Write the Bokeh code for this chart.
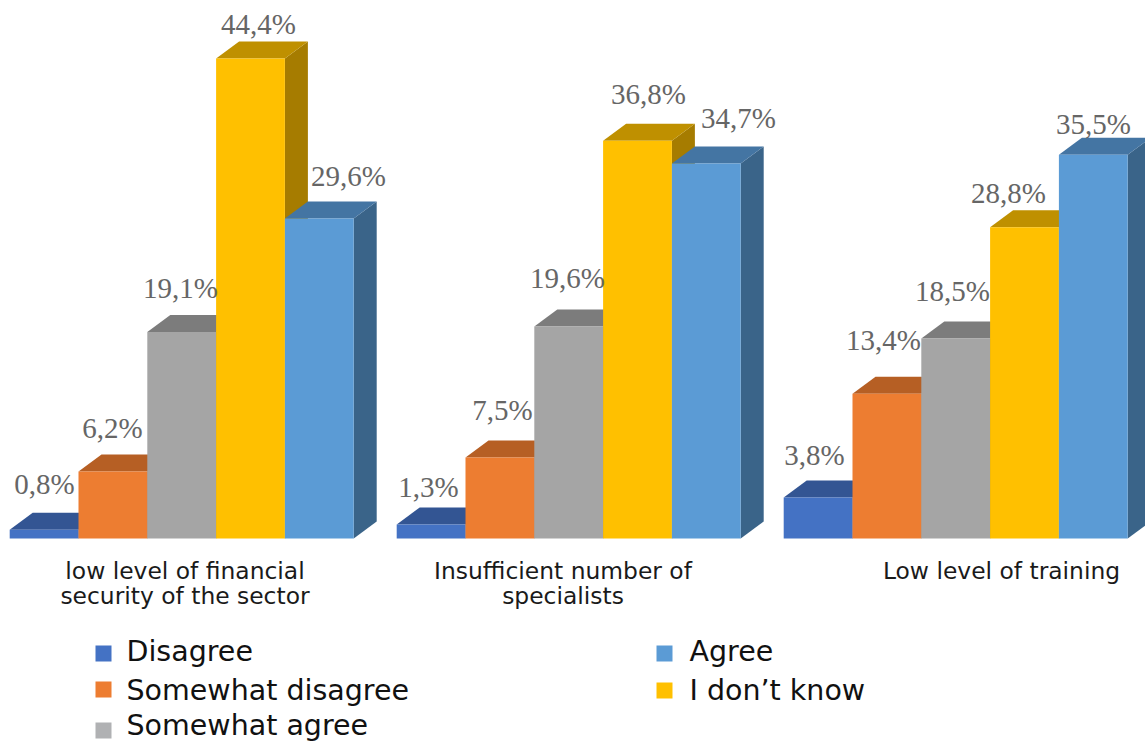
from bokeh.plotting import figure
from bokeh.models import Range1d
from bokeh.core.properties import value
from bokeh.embed import file_html
from bokeh.resources import INLINE

categories = ["low level of financial\nsecurity of the sector", "Insufficient number of\nspecialists", "Low level of training"]
series = ["Disagree", "Somewhat disagree", "Somewhat agree", "I don\u2019t know", "Agree"]
disagree = [0.8, 1.3, 3.8]
somewhat_disagree = [6.2, 7.5, 13.4]
somewhat_agree = [19.1, 19.6, 18.5]
dont_know = [44.4, 36.8, 28.8]
agree = [29.6, 34.7, 35.5]
all_values = [disagree, somewhat_disagree, somewhat_agree, dont_know, agree]

front = ["#4472C4", "#ED7D31", "#A5A5A5", "#FFC000", "#5B9BD5"]
top = ["#335593", "#B65F24", "#7C7C7C", "#BF9000", "#4475A3"]
side = ["#2B4A82", "#A0521C", "#6A6A6A", "#A67C00", "#3A6489"]
legend_col = ["#4472C4", "#ED7D31", "#B0B1B3", "#FFC000", "#5B9BD5"]

W, H = 1145, 742
BASE = 538
PX = 10.81
x0, step, bw = 9.2, 387, 68.8
dx3, dy3 = 23, 17

label_x = [[44, 112, 180, 258, 348], [428, 502, 567, 648, 738], [814, 883, 952, 1008, 1093]]
label_y = [[496, 440, 300, 36, 188], [499, 422, 290, 106, 130], [467, 352, 303, 205, 136]]
label_shift = -13
cat_x = [184.5, 562.5, 1001]
cat_y = 556

def Y(py):
    return (BASE - py) / PX

p = figure(width=W, height=H, output_backend="svg", toolbar_location=None,
           x_range=Range1d(0, W), y_range=Range1d(Y(H), Y(0)),
           x_axis_type=None, y_axis_type=None, min_border=0, outline_line_color=None,
           background_fill_color="white", border_fill_color="white")
p.grid.visible = False

dv = dy3 / PX
for g in range(len(categories)):
    for s in range(len(series)):
        v = all_values[s][g]
        l = x0 + g * step + s * bw
        r = l + bw
        p.patch([r, r + dx3, r + dx3, r], [0, dv, v + dv, v], fill_color=side[s], line_color=None)
        p.patch([l, l + dx3, r + dx3, r], [v, v + dv, v + dv, v], fill_color=top[s], line_color=None)
        p.vbar(x=[(l + r) / 2], width=bw, bottom=0, top=[v], fill_color=front[s], line_color=None)

for g in range(len(categories)):
    for s in range(len(series)):
        txt = f"{all_values[s][g]:.1f}%".replace(".", ",")
        p.text([label_x[g][s]], [Y(label_y[g][s] + label_shift)], text=[txt], text_font=value("Liberation Serif"),
               text_font_size="29px", text_color="#666666", text_align="center", text_baseline="alphabetic")

p.text(cat_x, [Y(cat_y)] * 3, text=categories, text_font=value("DejaVu Sans"),
       text_font_size="23.4px", text_color="#1a1a1a", text_align="center", text_baseline="top",
       text_line_height=0.9)

leg_x = [95, 95, 95, 656, 656]
leg_y = [653, 689, 730, 690, 653]
leg_text_y = [651, 690, 725, 690, 651]
for s, name in enumerate(series):
    p.scatter([leg_x[s] + 8], [Y(leg_y[s])], marker="square", size=16, fill_color=legend_col[s], line_color=None)
    p.text([leg_x[s] + 31 if leg_x[s] == 95 else leg_x[s] + 33], [Y(leg_text_y[s])], text=[name],
           text_font=value("DejaVu Sans"), text_font_size="28.5px", text_color="#111111",
           text_align="left", text_baseline="alphabetic")

open("out.html", "w").write(file_html(p, INLINE))
